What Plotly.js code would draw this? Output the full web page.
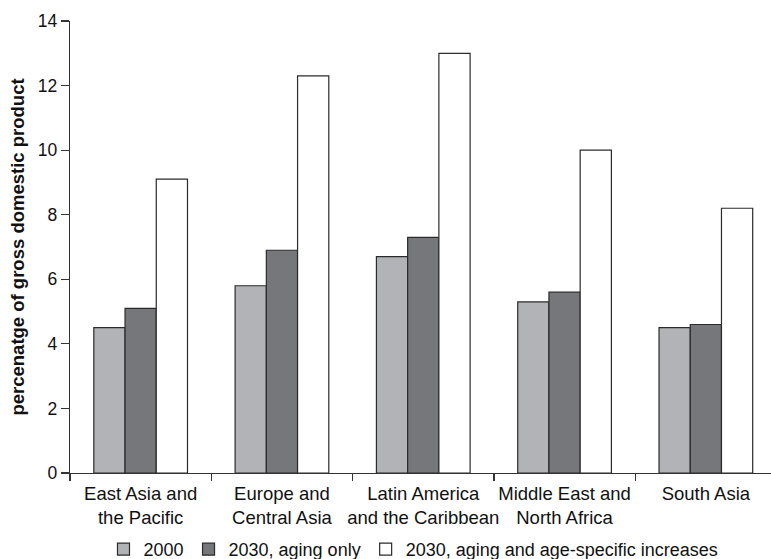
<!DOCTYPE html>
<html>
<head>
<meta charset="utf-8">
<script src="https://cdn.plot.ly/plotly-3.0.1.min.js"></script>
<style>html,body{margin:0;padding:0;background:#fff}#chart{width:771px;height:559px}</style>
</head>
<body>
<div id="chart"></div>
<script>
var regions = ["East Asia and<br>the Pacific", "Europe and<br>Central Asia", "Latin America<br>and the Caribbean", "Middle East and<br>North Africa", "South Asia"];
var seriesNames = ["2000", "2030, aging only", "2030, aging and age-specific increases"];
var v2000 = [4.5, 5.8, 6.7, 5.3, 4.5];
var vAging = [5.1, 6.9, 7.3, 5.6, 4.6];
var vAgeSpecific = [9.1, 12.3, 13.0, 10.0, 8.2];
var yTicks = [0, 2, 4, 6, 8, 10, 12, 14];

var fills = ["#b1b3b6", "#76777b", "#ffffff"];
var seriesValues = [v2000, vAging, vAgeSpecific];
var font = "Liberation Sans, Arial, Helvetica, sans-serif";

var traces = seriesValues.map(function (vals, i) {
  return {
    type: "bar",
    name: seriesNames[i],
    x: regions,
    y: vals,
    marker: {color: fills[i], line: {color: "#2b2b2b", width: 1.2}},
    hoverinfo: "skip"
  };
});

var layout = {
  width: 771,
  height: 559,
  margin: {l: 70, r: 0, t: 21, b: 86, pad: 0},
  paper_bgcolor: "#ffffff",
  plot_bgcolor: "#ffffff",
  barmode: "group",
  bargap: 0.337,
  bargroupgap: 0,
  font: {family: font, color: "#111111", size: 17},
  xaxis: {
    type: "category",
    range: [-0.5, 4.461],
    automargin: false,
    showline: true,
    linecolor: "#333333",
    linewidth: 1.3,
    ticks: "outside",
    tickson: "boundaries",
    ticklen: 7,
    tickcolor: "#333333",
    tickwidth: 1.2,
    tickangle: 0,
    ticklabelstandoff: 3,
    tickfont: {family: font, size: 18.5, color: "#111111"},
    showgrid: false,
    zeroline: false,
    fixedrange: true
  },
  yaxis: {
    range: [0, 14],
    automargin: false,
    tickvals: yTicks,
    ticktext: yTicks.map(String),
    showline: true,
    linecolor: "#333333",
    linewidth: 1.3,
    ticks: "outside",
    ticklen: 8,
    tickcolor: "#333333",
    tickwidth: 1.2,
    tickfont: {family: font, size: 17.5, color: "#111111"},
    showgrid: false,
    zeroline: false,
    title: {text: "<b>percenatge of gross domestic product</b>", font: {family: font, size: 18.5, color: "#111111"}, standoff: 8},
    fixedrange: true
  },
  showlegend: true,
  legend: {
    orientation: "h",
    xref: "paper",
    x: 0.49,
    xanchor: "center",
    yref: "container",
    y: 0.017,
    yanchor: "middle",
    font: {family: font, size: 18, color: "#111111"},
    itemwidth: 30,
    tracegroupgap: 0,
    bgcolor: "rgba(0,0,0,0)"
  }
};

Plotly.newPlot("chart", traces, layout, {displayModeBar: false, staticPlot: true});
</script>
</body>
</html>
